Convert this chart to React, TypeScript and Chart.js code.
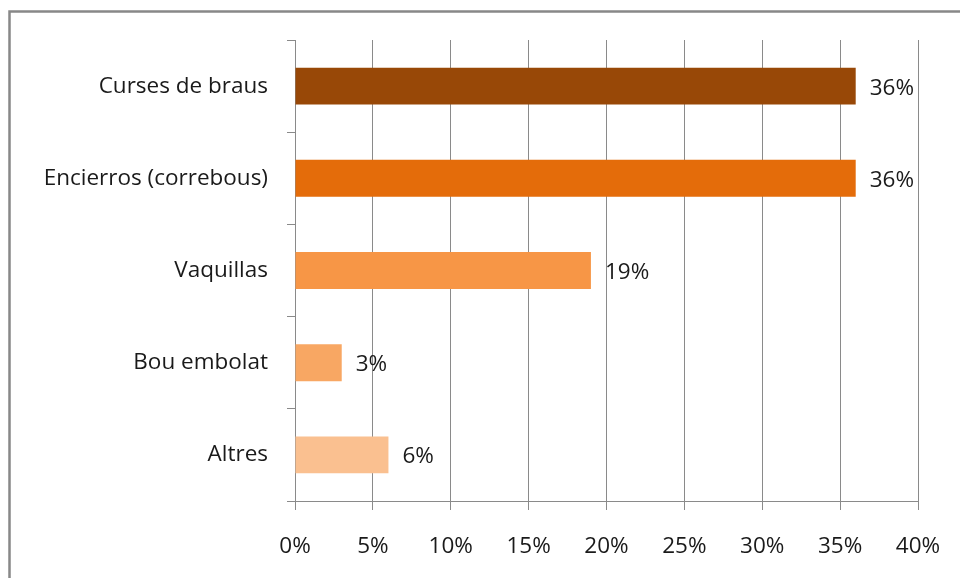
import React, { useEffect, useRef } from "react";
import { Chart, registerables } from "chart.js";

Chart.register(...registerables);

const categories = ["Curses de braus", "Encierros (correbous)", "Vaquillas", "Bou embolat", "Altres"];
const values = [36, 36, 19, 3, 6];
const barColors = ["#984807", "#E46C0A", "#F79646", "#F8A763", "#FAC090"];
const xTickStep = 5;
const xMax = 40;

const FONT = "'Open Sans', sans-serif";
const FSIZE = 22.5;

const framePlugin = {
  id: "frame",
  beforeDraw(chart: any) {
    const ctx = chart.ctx;
    ctx.save();
    ctx.fillStyle = "#ffffff";
    ctx.fillRect(0, 0, chart.width, chart.height);
    ctx.strokeStyle = "#888888";
    ctx.lineWidth = 2.5;
    ctx.beginPath();
    ctx.moveTo(9.5, chart.height + 5);
    ctx.lineTo(9.5, 11.5);
    ctx.lineTo(chart.width + 5, 11.5);
    ctx.stroke();
    ctx.restore();
  },
};

const labelPlugin = {
  id: "valueLabels",
  afterDatasetsDraw(chart: any) {
    const ctx = chart.ctx;
    const meta = chart.getDatasetMeta(0);
    ctx.save();
    ctx.font = `${FSIZE}px ${FONT}`;
    ctx.fillStyle = "#1a1a1a";
    ctx.textBaseline = "middle";
    ctx.textAlign = "left";
    meta.data.forEach((bar: any, i: number) => {
      ctx.fillText(`${values[i]}%`, bar.x + 14, bar.y + 2);
    });
    ctx.restore();
  },
};

export default function App() {
  const ref = useRef<HTMLCanvasElement>(null);
  useEffect(() => {
    if (!ref.current) return;
    const chart = new Chart(ref.current, {
      type: "bar",
      data: {
        labels: categories,
        datasets: [
          {
            data: values,
            backgroundColor: barColors,
            borderColor: barColors,
            borderWidth: 0,
            barPercentage: 0.4,
            categoryPercentage: 1,
          },
        ],
      },
      options: {
        indexAxis: "y",
        animation: false,
        responsive: false,
        maintainAspectRatio: false,
        layout: { padding: { left: 0, right: 42, top: 40, bottom: 0 } },
        plugins: { legend: { display: false }, tooltip: { enabled: false } },
        scales: {
          x: {
            min: 0,
            max: xMax,
            ticks: {
              stepSize: xTickStep,
              callback: (v: any) => `${v}%`,
              color: "#1a1a1a",
              font: { family: FONT, size: FSIZE },
              padding: 23,
            },
            grid: { color: "#8a8a8a", lineWidth: 1, tickLength: 9 },
            border: { color: "#8a8a8a", width: 1 },
            afterFit: (s: any) => {
              s.height = 77;
              s.paddingLeft = 0;
              s.paddingRight = 0;
            },
          },
          y: {
            ticks: {
              color: "#1a1a1a",
              font: { family: FONT, size: FSIZE },
              padding: 19,
            },
            grid: { drawOnChartArea: false, color: "#8a8a8a", tickLength: 8, offset: true },
            border: { color: "#8a8a8a", width: 1 },
            afterFit: (s: any) => {
              s.width = 295;
              s.paddingTop = 0;
              s.paddingBottom = 0;
            },
          },
        },
      },
      plugins: [framePlugin, labelPlugin],
    });
    return () => chart.destroy();
  }, []);
  return (
    <div style={{ position: "fixed", left: 0, top: 0, width: 960, height: 578 }}>
      <canvas ref={ref} width={960} height={578} style={{ width: 960, height: 578 }} />
    </div>
  );
}
